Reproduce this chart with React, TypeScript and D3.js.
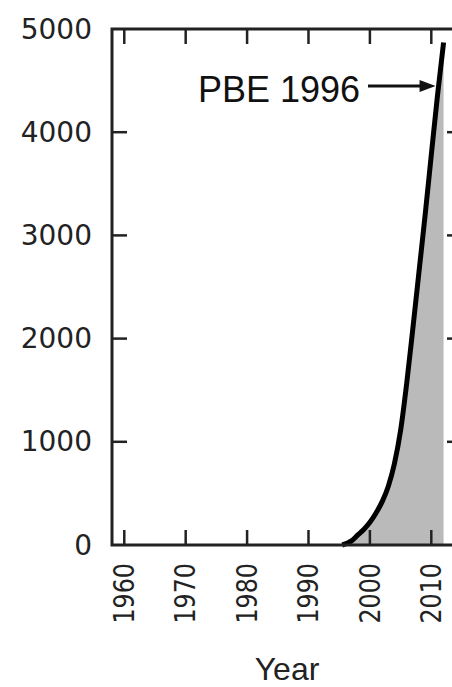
import React from "react";
import * as d3 from "d3";

const years = [1995.5, 1997, 1998, 1999, 2000, 2001, 2002, 2003, 2004, 2005, 2006, 2007, 2008, 2009, 2010, 2011, 2012];
const citations = [0, 40, 95, 150, 220, 310, 420, 570, 790, 1110, 1570, 2100, 2650, 3200, 3780, 4350, 4870];
const xTicks = [1960, 1970, 1980, 1990, 2000, 2010];
const yTicks = [0, 1000, 2000, 3000, 4000, 5000];
const annotation = "PBE 1996";
const xTitle = "Year";

const W = 452;
const H = 687;

export default function App() {
  const x = d3.scaleLinear().domain([1958, 2015]).range([112, 462]);
  const y = d3.scaleLinear().domain([0, 5000]).range([545, 29]);
  const data = years.map((yr, i) => ({ yr, v: citations[i] }));
  const line = d3
    .line<{ yr: number; v: number }>()
    .x((d) => x(d.yr))
    .y((d) => y(d.v))
    .curve(d3.curveMonotoneX);
  const area = d3
    .area<{ yr: number; v: number }>()
    .x((d) => x(d.yr))
    .y0(y(0))
    .y1((d) => y(d.v))
    .curve(d3.curveMonotoneX);

  const axisColor = "#222";
  const [x0, x1] = x.range();
  const [yb, yt] = y.range();
  const tickLen = 15;
  const last = data[data.length - 1];
  const arrowY = 86;

  return (
    <svg
      width={W}
      height={H}
      style={{ position: "absolute", left: 0, top: 0, background: "#fff" }}
    >
      <path d={area(data) || ""} fill="#bababa" />
      <path d={line(data) || ""} fill="none" stroke="#000" strokeWidth={5} strokeLinejoin="round" />
      {/* frame */}
      <rect x={x0} y={yt} width={x1 - x0} height={yb - yt} fill="none" stroke={axisColor} strokeWidth={3} />
      {/* x ticks */}
      {xTicks.map((t) => (
        <g key={"xt" + t}>
          <line x1={x(t)} x2={x(t)} y1={yb} y2={yb - tickLen} stroke={axisColor} strokeWidth={2.5} />
          <line x1={x(t)} x2={x(t)} y1={yt} y2={yt + tickLen} stroke={axisColor} strokeWidth={2.5} />
          <text
            transform={`translate(${x(t)},563) rotate(-90) scale(0.85,1)`}
            textAnchor="end"
            dominantBaseline="central"
            fontFamily="DejaVu Sans"
            fontSize={28}
            fill={axisColor}
          >
            {t}
          </text>
        </g>
      ))}
      {/* y ticks */}
      {yTicks.map((t) => (
        <g key={"yt" + t}>
          {t > 0 && t < 5000 && (
            <>
              <line x1={x0} x2={x0 + tickLen} y1={y(t)} y2={y(t)} stroke={axisColor} strokeWidth={2.5} />
              <line x1={x1} x2={x1 - tickLen} y1={y(t)} y2={y(t)} stroke={axisColor} strokeWidth={2.5} />
            </>
          )}
          <text
            x={92}
            y={y(t)}
            textAnchor="end"
            dominantBaseline="central"
            fontFamily="DejaVu Sans"
            fontSize={28}
            fill={axisColor}
          >
            {t}
          </text>
        </g>
      ))}
      {/* annotation */}
      <text x={198} y={102} fontFamily="Liberation Sans, Arial" fontSize={36} fill="#111">
        {annotation}
      </text>
      <line x1={368} x2={422} y1={arrowY} y2={arrowY} stroke="#111" strokeWidth={3} />
      <path
        d={`M${x(last.yr) - 8},${arrowY} l-16,-6 l0,12 Z`}
        fill="#111"
      />
      <text
        x={287}
        y={680}
        textAnchor="middle"
        fontFamily="Liberation Sans, Arial"
        fontSize={32}
        fill={axisColor}
      >
        {xTitle}
      </text>
    </svg>
  );
}
